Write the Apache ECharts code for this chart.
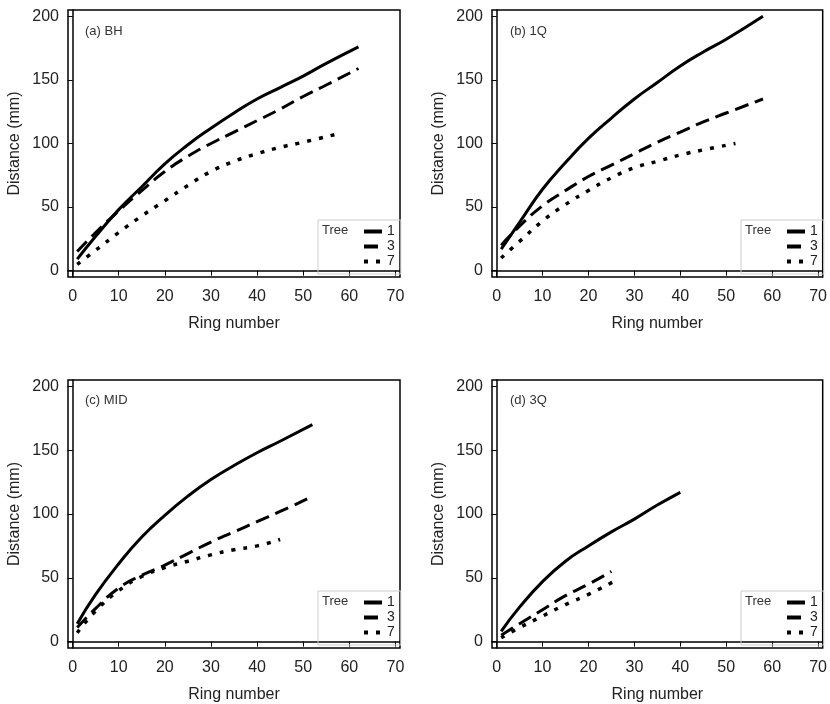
<!DOCTYPE html>
<html>
<head>
<meta charset="utf-8">
<script src="https://cdn.jsdelivr.net/npm/echarts@6/dist/echarts.min.js"></script>
<style>
html, body { margin: 0; padding: 0; background: #fff; }
#plot { width: 830px; height: 704px; }
</style>
</head>
<body>
<div id="plot"></div>
<script>
// Tree names, panel labels, tick values
const treeNames = ['1', '3', '7'];
const panelLabels = ['(a) BH', '(b) 1Q', '(c) MID', '(d) 3Q'];
const xTickValues = [0, 10, 20, 30, 40, 50, 60, 70];
const yTickValues = [0, 50, 100, 150, 200];

// [ring number, distance mm]
const bhTree1 = [[1, 9], [5, 27], [10, 48], [15, 66], [20, 84], [25, 99], [30, 112], [35, 124], [40, 135], [45, 144], [50, 153], [55, 163], [62, 176]];
const bhTree3 = [[1, 15], [5, 30], [10, 47], [15, 63], [20, 78], [25, 90], [30, 100], [35, 109], [40, 118], [45, 127], [50, 137], [55, 146], [62, 159]];
const bhTree7 = [[1, 5], [5, 16], [10, 30], [15, 43], [20, 55], [25, 67], [30, 78], [35, 86], [40, 92], [45, 97], [50, 101], [58, 108]];

const q1Tree1 = [[1, 17], [5, 38], [10, 64], [15, 85], [20, 104], [25, 120], [30, 135], [35, 148], [40, 161], [45, 172], [50, 182], [58, 200]];
const q1Tree3 = [[1, 20], [5, 35], [10, 51], [15, 63], [20, 74], [25, 83], [30, 92], [35, 101], [40, 109], [45, 117], [50, 124], [58, 135]];
const q1Tree7 = [[1, 10], [5, 23], [10, 39], [15, 52], [20, 63], [25, 73], [30, 81], [35, 86], [40, 91], [45, 95], [52, 100]];

const midTree1 = [[1, 14], [5, 37], [10, 61], [15, 82], [20, 99], [25, 114], [30, 127], [35, 138], [40, 148], [45, 157], [52, 170]];
const midTree3 = [[1, 11], [5, 26], [10, 42], [15, 52], [20, 60], [25, 69], [30, 78], [35, 86], [40, 94], [45, 102], [51, 112]];
const midTree7 = [[1, 7], [5, 24], [10, 40], [15, 51], [20, 58], [25, 63], [30, 68], [35, 72], [40, 75], [45, 80]];

const q3Tree1 = [[1, 8], [5, 27], [10, 47], [15, 63], [20, 75], [25, 86], [30, 96], [35, 107], [40, 117]];
const q3Tree3 = [[1, 5], [5, 14], [10, 25], [15, 36], [20, 45], [25, 55]];
const q3Tree7 = [[1, 3], [5, 11], [10, 20], [15, 29], [20, 37], [26, 48]];

const panelData = [
    [bhTree1, bhTree3, bhTree7],
    [q1Tree1, q1Tree3, q1Tree7],
    [midTree1, midTree3, midTree7],
    [q3Tree1, q3Tree3, q3Tree7]
];

const chart = echarts.init(document.getElementById('plot'));
const font = '"Liberation Sans", Arial, sans-serif';
const lineTypes = ['solid', [14, 7], [4, 8]];
const lineWidths = [3, 3, 3.5];

// grid boxes, one per panel
const boxes = [
    { left: 68, top: 10, width: 332, height: 267 },
    { left: 492, top: 10, width: 331, height: 267 },
    { left: 68, top: 380, width: 332, height: 268 },
    { left: 492, top: 380, width: 331, height: 268 }
];

const grids = boxes.map(b => ({
    left: b.left, top: b.top, width: b.width, height: b.height,
    show: true, borderColor: '#000', borderWidth: 1.5, backgroundColor: 'transparent'
}));

const xAxes = boxes.map((b, i) => ({
    type: 'value', gridIndex: i, min: -1, max: 71,
    name: 'Ring number', nameLocation: 'middle', nameGap: 39,
    nameTextStyle: { fontSize: 16, color: '#222', fontFamily: font },
    axisLine: { show: true, lineStyle: { color: '#000', width: 1.5 } },
    axisTick: { show: true, length: 5, lineStyle: { color: '#000' }, customValues: xTickValues },
    axisLabel: { fontSize: 16, color: '#222', fontFamily: font, margin: 12, customValues: xTickValues },
    splitLine: { show: false }
}));

const yAxes = boxes.map((b, i) => ({
    type: 'value', gridIndex: i, min: -5, max: 205,
    name: 'Distance (mm)', nameLocation: 'middle', nameGap: 45,
    nameTextStyle: { fontSize: 16, color: '#222', fontFamily: font },
    axisLine: { show: true, lineStyle: { color: '#000', width: 1.5 } },
    axisTick: { show: true, length: 5, lineStyle: { color: '#000' }, customValues: yTickValues },
    axisLabel: { fontSize: 16, color: '#222', fontFamily: font, margin: 9, customValues: yTickValues },
    splitLine: { show: false }
}));

const series = [];
panelData.forEach((trees, p) => {
    trees.forEach((pts, t) => {
        series.push({
            type: 'line', name: treeNames[t], xAxisIndex: p, yAxisIndex: p,
            data: pts, smooth: 0.5, symbol: 'none',
            lineStyle: { color: '#000', width: lineWidths[t], type: lineTypes[t] },
            itemStyle: { color: '#000' }
        });
    });
});

const legends = boxes.map(b => ({
    orient: 'vertical',
    left: b.left + b.width - 82,
    top: b.top + b.height - 57,
    data: treeNames,
    selectedMode: false,
    itemWidth: 18, itemHeight: 10, itemGap: 0,
    padding: [4, 6, 5, 44],
    borderColor: '#ccc', borderWidth: 1,
    lineStyle: { width: 4 },
    itemStyle: { color: 'transparent', borderWidth: 0, opacity: 0 },
    textStyle: { fontSize: 14, color: '#222', fontFamily: font, lineHeight: 15 }
}));

const graphics = [];
boxes.forEach((b, i) => {
    graphics.push({
        type: 'text', left: b.left + (i % 2 === 0 ? 17 : 18), top: b.top + (i < 2 ? 15 : 14),
        style: { text: panelLabels[i], fontSize: 13, fill: '#333', fontFamily: font }
    });
    graphics.push({
        type: 'text', left: b.left + b.width - 78, top: b.top + b.height - 53,
        style: { text: 'Tree', fontSize: 13, fill: '#333', fontFamily: font }
    });
});

chart.setOption({
    animation: false,
    backgroundColor: '#fff',
    grid: grids,
    xAxis: xAxes,
    yAxis: yAxes,
    legend: legends,
    graphic: graphics,
    series: series
});
window.addEventListener('resize', () => chart.resize());
</script>
</body>
</html>
